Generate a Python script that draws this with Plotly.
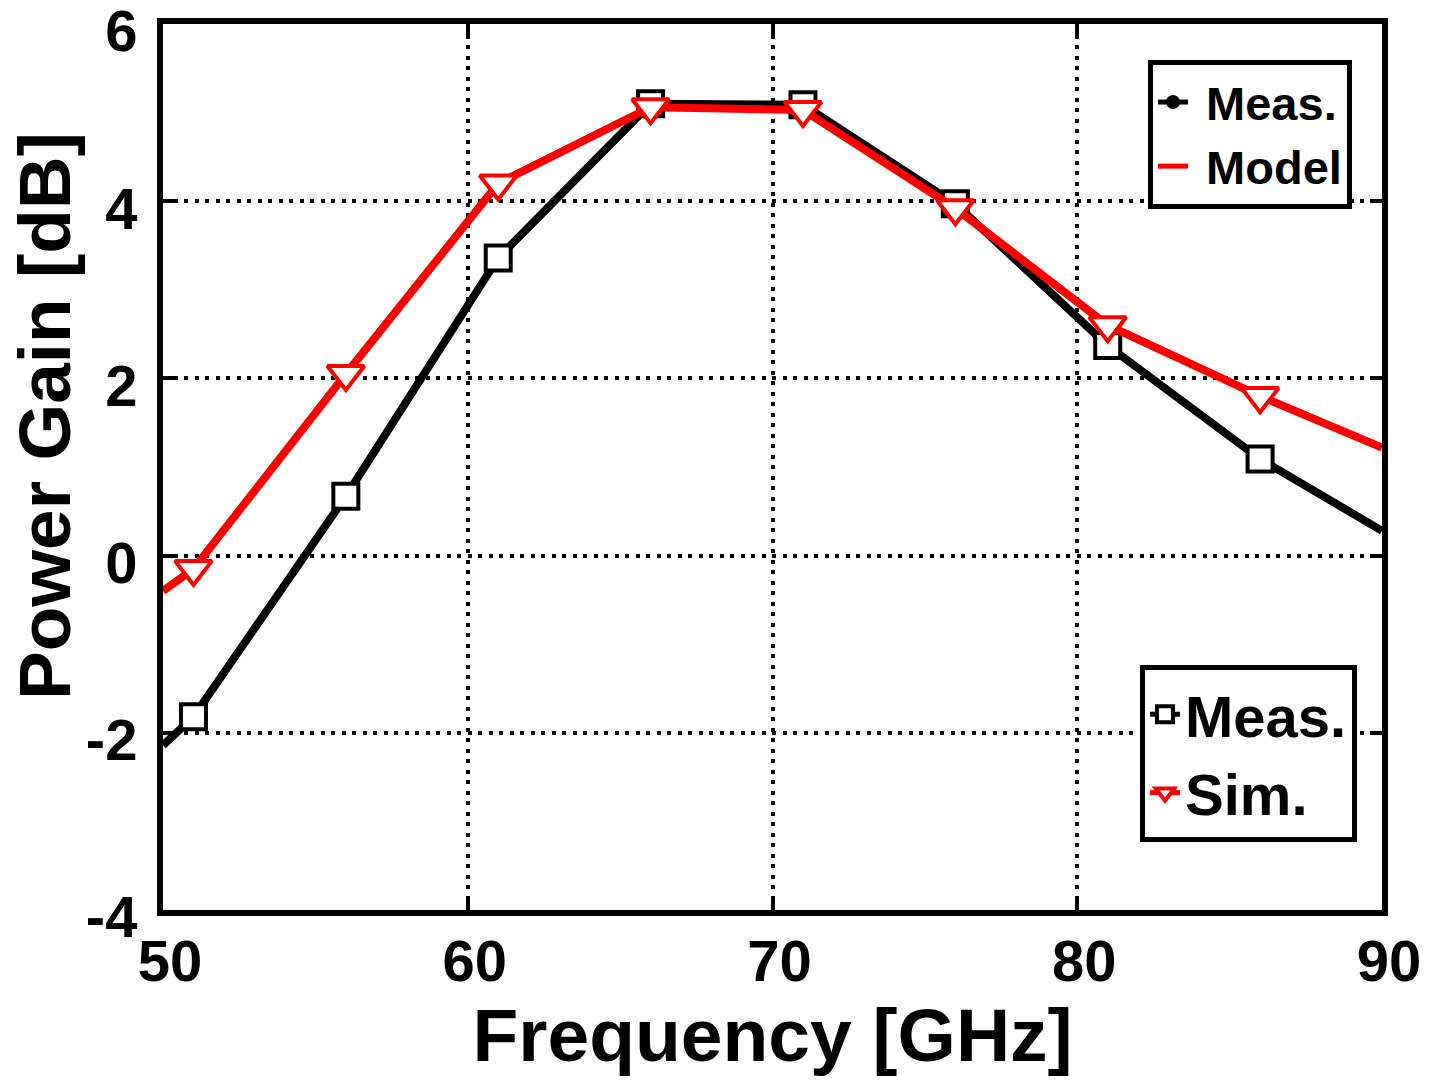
import plotly.graph_objects as go

# Frequency sweep (GHz); traces run edge to edge, markers at the measured points
freq_line = [50, 51, 56, 61, 66, 71, 76, 81, 86, 90]
meas_line = [-2.14, -1.82, 0.67, 3.36, 5.10, 5.09, 3.97, 2.37, 1.09, 0.28]
sim_line = [-0.40, -0.15, 2.05, 4.20, 5.06, 5.03, 3.92, 2.60, 1.80, 1.22]

freq_pts = [51, 56, 61, 66, 71, 76, 81, 86]
meas_pts = [-1.82, 0.67, 3.36, 5.10, 5.09, 3.97, 2.37, 1.09]
sim_pts = [-0.15, 2.05, 4.20, 5.06, 5.03, 3.92, 2.60, 1.80]

x_ticks = [50, 60, 70, 80, 90]
y_ticks = [-4, -2, 0, 2, 4, 6]
y_tick_text = ["-4", "-2", "0", "2", "4", "6"]

FONT = "Liberation Sans"
RED = "#ff0000"

fig = go.Figure()

# Measured gain
fig.add_trace(go.Scatter(x=freq_line, y=meas_line, mode="lines",
                         line=dict(color="black", width=8),
                         showlegend=False, hoverinfo="skip"))
fig.add_trace(go.Scatter(x=freq_pts, y=meas_pts, mode="markers",
                         marker=dict(symbol="square", size=25, color="white",
                                     line=dict(color="black", width=4)),
                         showlegend=False))
# Simulated gain
fig.add_trace(go.Scatter(x=freq_line, y=sim_line, mode="lines",
                         line=dict(color=RED, width=8),
                         showlegend=False, hoverinfo="skip"))
fig.add_trace(go.Scatter(x=freq_pts, y=sim_pts, mode="markers",
                         marker=dict(symbol="triangle-down", size=32, color="white",
                                     line=dict(color=RED, width=4)),
                         showlegend=False))

# Upper legend: Meas. / Model
fig.add_trace(go.Scatter(x=[None], y=[None], mode="lines+markers", name="\u00a0Meas.",
                         line=dict(color="black", width=5),
                         marker=dict(symbol="circle", size=14, color="black"),
                         legend="legend"))
fig.add_trace(go.Scatter(x=[None], y=[None], mode="lines", name="\u00a0Model",
                         line=dict(color=RED, width=5), legend="legend"))

# Lower legend: Meas. / Sim.
fig.add_trace(go.Scatter(x=[None], y=[None], mode="lines+markers", name="Meas.",
                         line=dict(color="black", width=5),
                         marker=dict(symbol="square", size=16, color="white",
                                     line=dict(color="black", width=4)),
                         legend="legend2"))
fig.add_trace(go.Scatter(x=[None], y=[None], mode="lines+markers", name="Sim.",
                         line=dict(color=RED, width=5),
                         marker=dict(symbol="triangle-down", size=16, color="white",
                                     line=dict(color=RED, width=4)),
                         legend="legend2"))

axis_common = dict(
    automargin=False,
    showline=True, linewidth=6, linecolor="black", mirror="ticks",
    ticks="inside", ticklen=12, tickwidth=4, tickcolor="black",
    showgrid=True, gridcolor="black", gridwidth=3.5, griddash="4px,6.5px",
    zeroline=False, ticklabeloverflow="allow",
    tickfont=dict(family=FONT, size=58, color="black", weight="bold"),
)

fig.update_xaxes(range=[50, 90], tickmode="array", tickvals=x_ticks,
                 ticklabelstandoff=-5, ticklabelshift=7,
                 title=dict(text="Frequency [GHz]", standoff=18,
                            font=dict(family=FONT, size=75, color="black", weight="bold")),
                 **axis_common)
fig.update_yaxes(range=[-4, 6], tickmode="array", tickvals=y_ticks, ticktext=y_tick_text,
                 ticklabelstandoff=8, ticklabelshift=7,
                 **axis_common)

# Vertical axis title, set a little above the axis centre
fig.add_annotation(text="Power Gain [dB]", textangle=-90, showarrow=False,
                   xref="paper", yref="paper", x=-0.0968, y=0.5576,
                   xanchor="center", yanchor="middle",
                   font=dict(family=FONT, size=73, color="black", weight="bold"))

fig.update_layout(
    width=1431, height=1081,
    margin=dict(l=163, r=49, t=24, b=171),
    paper_bgcolor="white", plot_bgcolor="white",
    font=dict(family=FONT, color="black", weight="bold"),
    legend=dict(x=0.9754, y=0.9594, xanchor="right", yanchor="top",
                bgcolor="white", bordercolor="black", borderwidth=5,
                font=dict(family=FONT, size=47, color="black", weight="bold"),
                itemsizing="trace"),
    legend2=dict(x=0.9795, y=0.2765, xanchor="right", yanchor="top",
                 bgcolor="white", bordercolor="black", borderwidth=5,
                 font=dict(family=FONT, size=58, color="black", weight="bold"),
                 itemsizing="trace"),
)

fig.write_html("out.html")
